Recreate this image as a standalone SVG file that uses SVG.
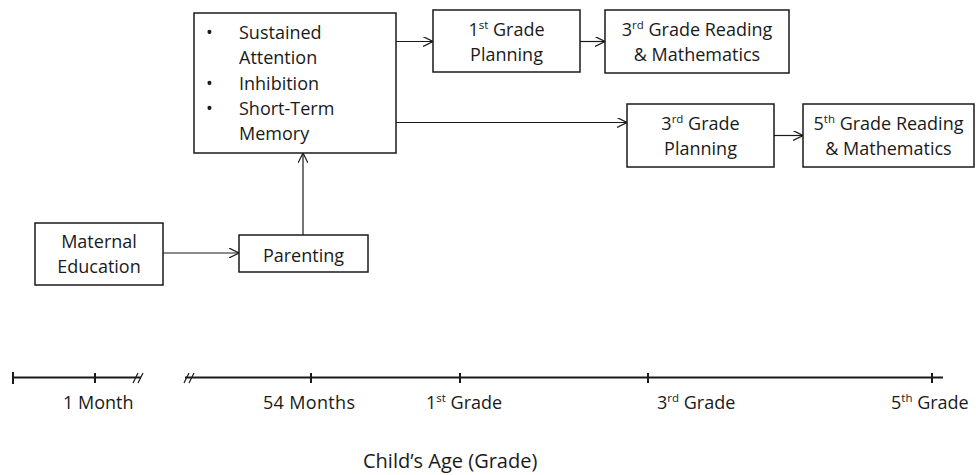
<svg xmlns="http://www.w3.org/2000/svg" width="976" height="475" viewBox="0 0 976 475">
<style>
text{font-family:"Open Sans","Liberation Sans",sans-serif;font-size:18px;fill:#1a1a1a}
.c{text-anchor:middle}
.box{fill:#fff;stroke:#1a1a1a;stroke-width:1.5}
.ln{stroke:#1a1a1a;stroke-width:1.2;fill:none}
.tl{stroke:#1a1a1a;stroke-width:2;fill:none}
.sup{font-size:11.5px}
</style>
<defs>
<marker id="ah" viewBox="0 0 10 10" refX="10" refY="5" markerWidth="10" markerHeight="10" markerUnits="userSpaceOnUse" orient="auto">
<path d="M0,0 L10,5 L0,10" fill="none" stroke="#1a1a1a" stroke-width="1.2"/>
</marker>
</defs>
<g id="connectors">
<line class="ln" x1="396" y1="41.5" x2="433" y2="41.5" marker-end="url(#ah)"/>
<line class="ln" x1="580" y1="41.5" x2="605" y2="41.5" marker-end="url(#ah)"/>
<line class="ln" x1="396" y1="122.5" x2="627" y2="122.5" marker-end="url(#ah)"/>
<line class="ln" x1="774" y1="135.5" x2="803" y2="135.5" marker-end="url(#ah)"/>
<line class="ln" x1="163" y1="253" x2="239" y2="253" marker-end="url(#ah)"/>
<line class="ln" x1="303" y1="235" x2="303" y2="153" marker-end="url(#ah)"/>
</g>
<g id="ef">
<rect class="box" x="194" y="13" width="202" height="140"/>
<text x="206" y="39">•</text><text x="239" y="39">Sustained</text>
<text x="239" y="64">Attention</text>
<text x="206" y="90">•</text><text x="239" y="90">Inhibition</text>
<text x="206" y="115">•</text><text x="239" y="115">Short-Term</text>
<text x="239" y="140">Memory</text>
</g>
<g id="g1plan">
<rect class="box" x="433" y="10" width="147" height="62"/>
<text class="c" x="506.5" y="36">1<tspan class="sup" baseline-shift="super">st</tspan> Grade</text>
<text class="c" x="506.5" y="61">Planning</text>
</g>
<g id="g3read">
<rect class="box" x="605" y="10" width="184" height="63"/>
<text class="c" x="697" y="36">3<tspan class="sup" baseline-shift="super">rd</tspan> Grade Reading</text>
<text class="c" x="697" y="61">&amp; Mathematics</text>
</g>
<g id="g3plan">
<rect class="box" x="627" y="104" width="147" height="63"/>
<text class="c" x="700.5" y="130">3<tspan class="sup" baseline-shift="super">rd</tspan> Grade</text>
<text class="c" x="700.5" y="155">Planning</text>
</g>
<g id="g5read">
<rect class="box" x="803" y="104" width="171" height="63"/>
<text class="c" x="888.5" y="130">5<tspan class="sup" baseline-shift="super">th</tspan> Grade Reading</text>
<text class="c" x="888.5" y="155">&amp; Mathematics</text>
</g>
<g id="maternal">
<rect class="box" x="35" y="223" width="128" height="62"/>
<text class="c" x="99" y="248">Maternal</text>
<text class="c" x="99" y="273">Education</text>
</g>
<g id="parenting">
<rect class="box" x="239" y="235" width="129" height="37"/>
<text class="c" x="303.5" y="262">Parenting</text>
</g>
<g id="timeline">
<line class="tl" x1="13" y1="377.5" x2="141" y2="377.5"/>
<line class="tl" x1="185" y1="377.5" x2="943" y2="377.5"/>
<line class="tl" x1="13" y1="372" x2="13" y2="384"/>
<line class="tl" x1="95" y1="373" x2="95" y2="383"/>
<line class="tl" x1="311" y1="373" x2="311" y2="383"/>
<line class="tl" x1="460" y1="373" x2="460" y2="383"/>
<line class="tl" x1="648" y1="373" x2="648" y2="383"/>
<line class="tl" x1="932" y1="373" x2="932" y2="383"/>
<path class="ln" d="M133,383 L138,373 M138,383 L143,373 M184,383 L189,373 M189,383 L194,373"/>
<text x="63" y="409">1 Month</text>
<text x="263" y="409" textLength="92">54 Months</text>
<text x="426" y="409">1<tspan class="sup" baseline-shift="super">st</tspan> Grade</text>
<text x="657" y="409">3<tspan class="sup" baseline-shift="super">rd</tspan> Grade</text>
<text x="891" y="409">5<tspan class="sup" baseline-shift="super">th</tspan> Grade</text>
<text x="363" y="468" style="font-size:20px">Child’s Age (Grade)</text>
</g>
</svg>
